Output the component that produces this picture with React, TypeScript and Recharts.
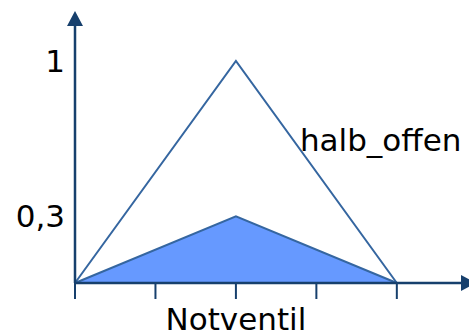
import React from 'react';
import {
  Area,
  ComposedChart,
  Line,
  ReferenceDot,
  XAxis,
  YAxis,
} from 'recharts';

// membership function breakpoints
const positions = [0, 2, 4];
const halbOffen = [0, 1, 0];
const notventil = [0, 0.3, 0];

const xTicks = [0, 1, 2, 3, 4];
const yTicks = [0.3, 1];
const yTickLabels: Record<number, string> = { 0.3: '0,3', 1: '1' };
const xCategory = 'Notventil';
const curveName = 'halb_offen';

const data = positions.map((x, i) => ({
  x,
  halbOffen: halbOffen[i],
  notventil: notventil[i],
}));

const AXIS = '#17406d';
const LINE = '#3566a0';
const FILL = '#6699ff';
const FONT = '"DejaVu Sans", Verdana, sans-serif';

const App: React.FC = () => {
  return (
    <div style={{ position: 'absolute', left: 0, top: 0, fontFamily: FONT }}>
      <ComposedChart
        width={469}
        height={336}
        data={data}
        margin={{ top: 25, right: 7, left: 0, bottom: 0 }}
      >
        <defs>
          <marker
            id="axisArrow"
            viewBox="0 0 15 16"
            markerWidth={15}
            markerHeight={16}
            refX={1}
            refY={8}
            markerUnits="userSpaceOnUse"
            orient="auto-start-reverse"
          >
            <path d="M0,0 L15,8 L0,16 z" fill={AXIS} />
          </marker>
        </defs>

        <XAxis
          dataKey="x"
          type="number"
          domain={[0, 4.81]}
          ticks={xTicks}
          height={53}
          tickSize={16}
          tickMargin={9}
          tickFormatter={(v: number) => (v === 2 ? xCategory : '')}
          axisLine={{ stroke: AXIS, strokeWidth: 2.5, markerEnd: 'url(#axisArrow)' }}
          tickLine={{ stroke: AXIS, strokeWidth: 2 }}
          tick={{ fill: '#000', fontSize: 31, fontFamily: FONT }}
          interval={0}
        />

        <YAxis
          type="number"
          domain={[0, 1.162]}
          ticks={yTicks}
          width={75}
          tickSize={0}
          tickMargin={10}
          tickLine={false}
          tickFormatter={(v: number) => yTickLabels[v] ?? ''}
          axisLine={{ stroke: AXIS, strokeWidth: 2.5, markerStart: 'url(#axisArrow)' }}
          tick={{ fill: '#000', fontSize: 31, fontFamily: FONT }}
          interval={0}
        />

        <Area
          type="linear"
          dataKey="notventil"
          stroke={LINE}
          strokeWidth={2}
          fill={FILL}
          fillOpacity={1}
          dot={false}
          activeDot={false}
          isAnimationActive={false}
        />

        <Line
          type="linear"
          dataKey="halbOffen"
          stroke={LINE}
          strokeWidth={2}
          dot={false}
          activeDot={false}
          isAnimationActive={false}
        />

        <ReferenceDot
          x={2.795}
          y={0.644}
          r={0}
          fill="none"
          stroke="none"
          label={{
            value: curveName,
            position: 'right',
            offset: 0,
            fill: '#000',
            fontSize: 31,
            fontFamily: FONT,
          }}
        />
      </ComposedChart>
    </div>
  );
};

export default App;
